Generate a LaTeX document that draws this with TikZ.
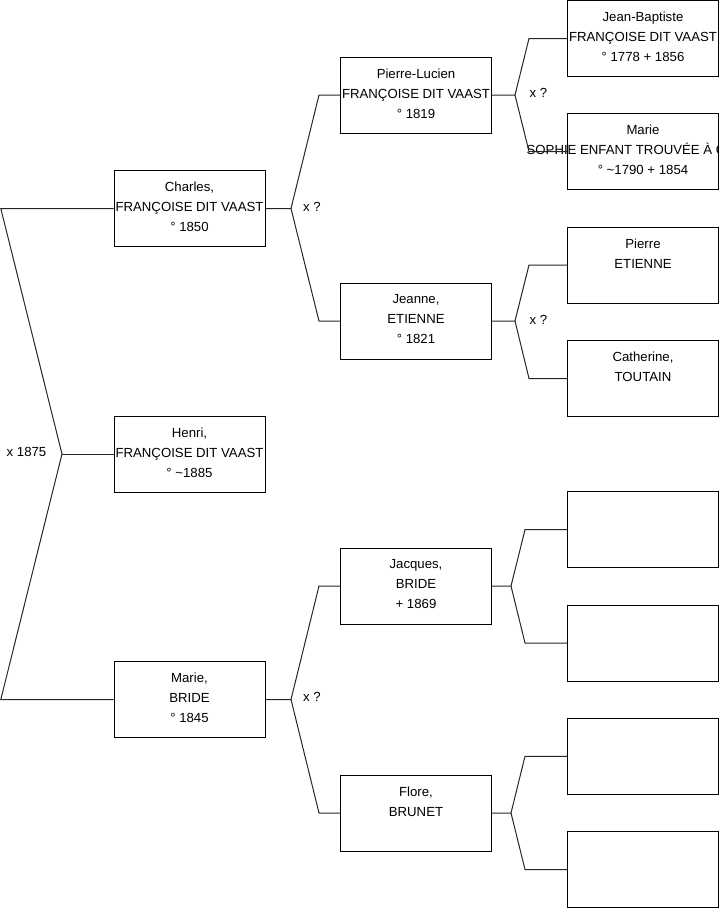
\documentclass[tikz,border=0pt]{standalone}
\usepackage{fontspec}
\setmainfont{Liberation Sans}
\begin{document}
\begin{tikzpicture}[x=1pt,y=-1pt,
  box/.style={draw=black, line width=1pt, minimum width=151pt, minimum height=76pt, inner sep=0pt, fill=none},
  txt/.style={align=center, inner sep=0pt, anchor=north, font=\fontsize{13.2}{20}\selectfont},
  lbl/.style={inner sep=0pt, font=\fontsize{13.2}{20}\selectfont},
  link/.style={draw=black!85, line width=1pt, line join=miter}]
\useasboundingbox (0,0) rectangle (719,908);
% boxes
\node[box] (charles) at (189.5,208.5) {};
\node[box] (henri) at (189.5,454) {};
\node[box] (marie) at (189.5,699.5) {};
\node[box] (pl) at (416,95) {};
\node[box] (jeanne) at (416,321) {};
\node[box] (jacques) at (416,586) {};
\node[box] (flore) at (416,813) {};
\node[box] (jb) at (643,38.5) {};
\node[box] (ms) at (643,151.5) {};
\node[box] (pe) at (643,265) {};
\node[box] (cat) at (643,378.5) {};
\node[box] (e1) at (643,529.7) {};
\node[box] (e2) at (643,643) {};
\node[box] (e3) at (643,756.3) {};
\node[box] (e4) at (643,869.5) {};
% texts
\node[txt] (tcharles) at ([yshift=-11.8pt]charles.north) {Charles,\\FRANÇOISE DIT VAAST\\° 1850};
\node[txt] (thenri) at ([yshift=-11.8pt]henri.north) {Henri,\\FRANÇOISE DIT VAAST\\° \textasciitilde1885};
\node[txt] (tmarie) at ([yshift=-11.8pt]marie.north) {Marie,\\BRIDE\\° 1845};
\node[txt] (tpl) at ([yshift=-11.8pt]pl.north) {Pierre-Lucien\\FRANÇOISE DIT VAAST\\° 1819};
\node[txt] (tjeanne) at ([yshift=-11.8pt]jeanne.north) {Jeanne,\\ETIENNE\\° 1821};
\node[txt] (tjacques) at ([yshift=-11.8pt]jacques.north) {Jacques,\\BRIDE\\+ 1869};
\node[txt] (tflore) at ([yshift=-11.8pt]flore.north) {Flore,\\BRUNET};
\node[txt] (tjb) at ([yshift=-11.8pt]jb.north) {Jean-Baptiste\\FRANÇOISE DIT VAAST\\° 1778 + 1856};
\node[txt] (tms) at ([yshift=-11.8pt]ms.north) {Marie\\SOPHIE ENFANT TROUVÉE À C\rule{34pt}{0pt}\\° \textasciitilde1790 + 1854};
\node[txt] (tpe) at ([yshift=-11.8pt]pe.north) {Pierre\\ETIENNE};
\node[txt] (tcat) at ([yshift=-11.8pt]cat.north) {Catherine,\\TOUTAIN};
% connectors
\coordinate (c0) at (62,454);
\draw[link] (charles.west) -- (0.8,208.5) -- (c0) -- (0.8,699.5) -- (marie.west);
\draw[link] (c0) -- (henri.west);
\coordinate (s1) at (291,208.5);
\draw[link] (charles.east) -- (s1) -- ([xshift=-21pt]pl.west) -- (pl.west);
\draw[link] (s1) -- ([xshift=-21pt]jeanne.west) -- (jeanne.west);
\coordinate (s4) at (291,699.5);
\draw[link] (marie.east) -- (s4) -- ([xshift=-21pt]jacques.west) -- (jacques.west);
\draw[link] (s4) -- ([xshift=-21pt]flore.west) -- (flore.west);
\coordinate (s2) at (515,95);
\draw[link] (pl.east) -- (s2) -- ([xshift=-38pt]jb.west) -- (jb.west);
\draw[link] (s2) -- ([xshift=-38pt]ms.west) -- (ms.west);
\coordinate (s3) at (515,321);
\draw[link] (jeanne.east) -- (s3) -- ([xshift=-38pt]pe.west) -- (pe.west);
\draw[link] (s3) -- ([xshift=-38pt]cat.west) -- (cat.west);
\coordinate (s5) at (511,586);
\draw[link] (jacques.east) -- (s5) -- ([xshift=-42pt]e1.west) -- (e1.west);
\draw[link] (s5) -- ([xshift=-42pt]e2.west) -- (e2.west);
\coordinate (s6) at (511,813);
\draw[link] (flore.east) -- (s6) -- ([xshift=-42pt]e3.west) -- (e3.west);
\draw[link] (s6) -- ([xshift=-42pt]e4.west) -- (e4.west);
% labels
\node[lbl] (l0) at (26.5,452) {x 1875};
\node[lbl] (l1) at (312,207) {x ?};
\node[lbl] (l2) at (538.5,93) {x ?};
\node[lbl] (l3) at (538.5,320) {x ?};
\node[lbl] (l4) at (312,697) {x ?};
\end{tikzpicture}
\end{document}
